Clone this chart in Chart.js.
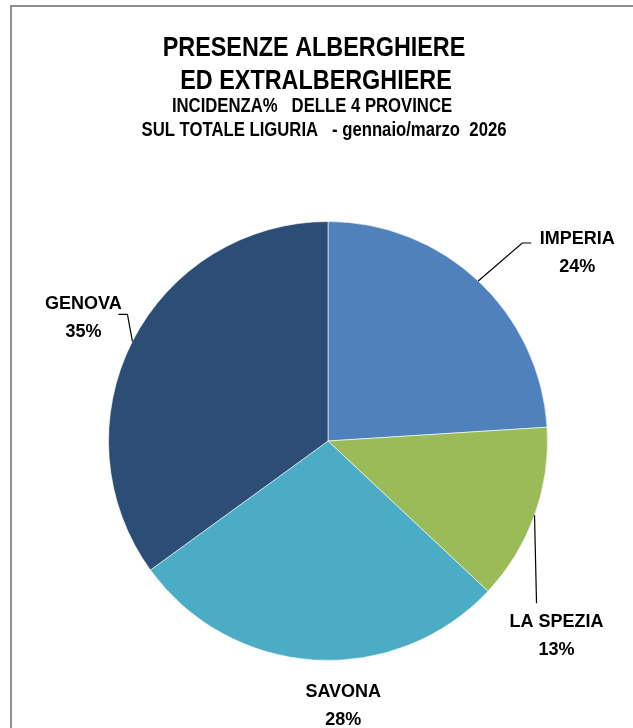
<!DOCTYPE html>
<html>
<head>
<meta charset="utf-8">
<script src="https://cdn.jsdelivr.net/npm/chart.js@4.4.1/dist/chart.umd.min.js"></script>
<style>
  html, body { margin: 0; padding: 0; background: #fff; }
  canvas { display: block; }
</style>
</head>
<body>
<canvas id="pieChart" width="633" height="728"></canvas>
<script>
const provinces = ['IMPERIA', 'LA SPEZIA', 'SAVONA', 'GENOVA'];
const shares = [24, 13, 28, 35];
const sliceColors = ['#4F81BD', '#9BBB59', '#4BACC6', '#2C4D75'];
const titleLines = [
  'PRESENZE ALBERGHIERE',
  'ED EXTRALBERGHIERE',
  'INCIDENZA%   DELLE 4 PROVINCE',
  'SUL TOTALE LIGURIA   - gennaio/marzo  2026'
];

// frame + title drawn by hand so the text can sit off the pie's centre like the original
const frameAndTitle = {
  id: 'frameAndTitle',
  beforeDraw(chart) {
    const ctx = chart.ctx;
    ctx.save();
    ctx.fillStyle = '#fff';
    ctx.fillRect(0, 0, chart.width, chart.height);
    ctx.strokeStyle = '#8f8f8f';
    ctx.lineWidth = 2;
    ctx.beginPath();
    ctx.moveTo(11, chart.height);
    ctx.lineTo(11, 6);
    ctx.lineTo(chart.width, 6);
    ctx.stroke();

    ctx.fillStyle = '#000';
    ctx.textAlign = 'center';
    ctx.textBaseline = 'alphabetic';
    // no narrow font installed, so squeeze Liberation Sans to a Calibri-ish width
    const squeeze = 0.835;
    const lineSpec = [
      {x: 314, y: 56, font: 'bold 28px "Liberation Sans", Arial, sans-serif'},
      {x: 316, y: 89, font: 'bold 28px "Liberation Sans", Arial, sans-serif'},
      {x: 312, y: 112, font: 'bold 20px "Liberation Sans", Arial, sans-serif'},
      {x: 324, y: 136, font: 'bold 20px "Liberation Sans", Arial, sans-serif'}
    ];
    titleLines.forEach((t, i) => {
      ctx.save();
      ctx.font = lineSpec[i].font;
      ctx.translate(lineSpec[i].x, lineSpec[i].y);
      ctx.scale(squeeze, 1);
      ctx.fillText(t, 0, 0);
      ctx.restore();
    });
    ctx.restore();
  }
};

// outside labels with leader lines, anchored at each slice's mid angle on the rim
const outsideLabels = {
  id: 'outsideLabels',
  afterDatasetsDraw(chart) {
    const ctx = chart.ctx;
    const meta = chart.getDatasetMeta(0);
    // leader vertices and label centre, relative to rim point
    const layout = [
      {leader: [[44, -38], [53, -38]], label: [99, -37]},
      {leader: [[2, 88]], label: [22, 112]},
      {leader: [], label: [29, 37]},
      {leader: [[-5, -27], [-14, -27]], label: [-49, -32]}
    ];
    ctx.save();
    ctx.strokeStyle = '#000';
    ctx.lineWidth = 1.2;
    ctx.fillStyle = '#000';
    ctx.textAlign = 'center';
    ctx.textBaseline = 'alphabetic';
    ctx.font = 'bold 18px "Liberation Sans", Arial, sans-serif';
    meta.data.forEach((arc, i) => {
      const p = arc.getProps(['x', 'y', 'startAngle', 'endAngle', 'outerRadius'], true);
      const mid = (p.startAngle + p.endAngle) / 2;
      const ex = p.x + Math.cos(mid) * p.outerRadius;
      const ey = p.y + Math.sin(mid) * p.outerRadius;
      const L = layout[i];
      if (L.leader.length) {
        ctx.beginPath();
        ctx.moveTo(ex, ey);
        L.leader.forEach(v => ctx.lineTo(ex + v[0], ey + v[1]));
        ctx.stroke();
      }
      const lx = ex + L.label[0];
      const ly = ey + L.label[1];
      ctx.fillText(provinces[i], lx, ly);
      ctx.fillText(shares[i] + '%', lx, ly + 28);
    });
    ctx.restore();
  }
};

new Chart(document.getElementById('pieChart'), {
  type: 'pie',
  data: {
    labels: provinces,
    datasets: [{
      data: shares,
      backgroundColor: sliceColors,
      borderColor: 'rgba(255,255,255,0.6)',
      borderWidth: 1
    }]
  },
  options: {
    responsive: false,
    animation: false,
    layout: {
      padding: {left: 108, right: 85, top: 221, bottom: 67}
    },
    plugins: {
      legend: {display: false},
      tooltip: {enabled: false},
      title: {display: false}
    }
  },
  plugins: [frameAndTitle, outsideLabels]
});
</script>
</body>
</html>
